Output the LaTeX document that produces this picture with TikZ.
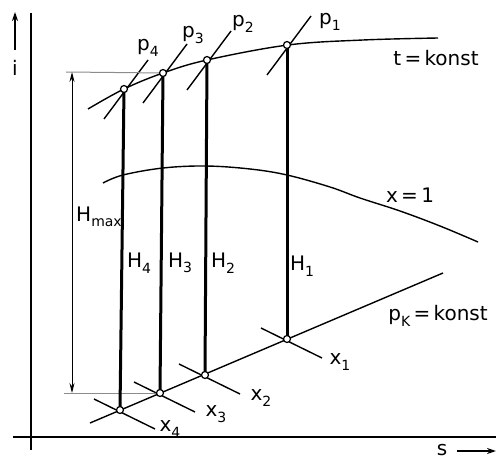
\documentclass[tikz,border=0pt]{standalone}
\usepackage{fontspec}
\setmainfont{DejaVu Sans}
\usetikzlibrary{arrows.meta,calc}
\newcommand\ssub[1]{\raisebox{-0.5ex}{\fontsize{14}{14}\selectfont #1}}
\tikzset{
  lbl/.style={font=\fontsize{20}{24}\selectfont, inner sep=0pt},
  curve/.style={line width=1.4pt},
  tick/.style={line width=1.4pt},
  hline/.style={line width=3pt},
  axis/.style={line width=1.8pt},
  pt/.style={circle, draw, fill=white, line width=1.2pt, inner sep=0pt, minimum size=7pt},
  guide/.style={line width=1pt, black!45},
  dim/.style={line width=1pt}
}
\begin{document}
\begin{tikzpicture}[x=1pt,y=-1pt]
\useasboundingbox (0,0) rectangle (496,460);
% state points
\coordinate (P1) at (287,45);
\coordinate (P2) at (207,60);
\coordinate (P3) at (163,73);
\coordinate (P4) at (124,89);
\coordinate (X1) at (287,339);
\coordinate (X2) at (205,375);
\coordinate (X3) at (160,393);
\coordinate (X4) at (120,410);
% axes
\coordinate (Atop) at (31,13);
\coordinate (Abot) at (31,450);
\coordinate (Aleft) at (13,437);
\coordinate (Aright) at (496,437);
\draw[axis] (Atop) -- (Abot);
\draw[axis] (Aleft) -- (Aright);
\coordinate (Ia) at (15,50);
\coordinate (Ib) at (15,12);
\draw[line width=1.8pt, -{Stealth[length=9pt,width=6pt]}] (Ia) -- (Ib);
\node[lbl] (ilab) at (15,68) {i};
\coordinate (Sa) at (457,451);
\coordinate (Sb) at (496,451);
\draw[line width=1.6pt, -{Stealth[length=9pt,width=6pt]}] (Sa) -- (Sb);
\node[lbl] (slab) at (442,450) {s};
% t = konst
\draw[curve] plot[smooth, tension=0.6] coordinates {(88,109) (124,89) (163,73) (207,60) (288,45) (363,40) (438,38)};
% x = 1
\draw[curve] plot[smooth, tension=0.6] coordinates {(103,183) (123,175) (163,168) (206,166) (250,169) (287,175) (330,187) (360,198) (400,211) (440,226) (478,242)};
% p_K = konst
\coordinate (Ka) at (90,423);
\coordinate (Kb) at (443,273);
\draw[curve] (Ka) -- (Kb);
% isobar ticks at P
\foreach \p in {P1,P2,P3,P4}{
  \draw[tick] ($(\p)+(-20,30)$) -- ($(\p)+(24,-29)$);
}
% ticks at X
\foreach \p in {X1,X2,X3,X4}{
  \draw[tick] ($(\p)+(-26,-11)$) -- ($(\p)+(35,19)$);
}
% Hmax dimension
\coordinate (Ht) at (72,72);
\coordinate (Hb) at (72,393);
\coordinate (Gt) at (66,72);
\coordinate (Gb) at (64,393);
\draw[guide] (Gt) -- (P3);
\draw[guide] (Gb) -- (X3);
\draw[dim, {Stealth[length=10pt,width=5pt]}-{Stealth[length=10pt,width=5pt]}] (Ht) -- (Hb);
\node[lbl] (hmax) at (99,217) {H\ssub{max}};
% expansion lines
\draw[hline] (P1) -- (X1);
\draw[hline] (P2) -- (X2);
\draw[hline] (P3) -- (X3);
\draw[hline] (P4) -- (X4);
% points
\foreach \p in {P1,P2,P3,P4,X1,X2,X3,X4}{
  \node[pt] at (\p) {};
}
% labels
\node[lbl] (lp1) at (330,22) {p\ssub{1}};
\node[lbl] (lp2) at (243,24) {p\ssub{2}};
\node[lbl] (lp3) at (193,35) {p\ssub{3}};
\node[lbl] (lp4) at (148,48) {p\ssub{4}};
\node[lbl] (lt) at (436,58) {t\,=\,konst};
\node[lbl] (lx) at (410,195) {x\,=\,1};
\node[lbl] (lk) at (438,316) {p\ssub{K}\,=\,konst};
\node[lbl] (lx1) at (340,362) {x\ssub{1}};
\node[lbl] (lx2) at (261,398) {x\ssub{2}};
\node[lbl] (lx3) at (216,414) {x\ssub{3}};
\node[lbl] (lx4) at (170,429) {x\ssub{4}};
\node[lbl] (lh1) at (302,266) {H\ssub{1}};
\node[lbl] (lh2) at (223,263) {H\ssub{2}};
\node[lbl] (lh3) at (180,263) {H\ssub{3}};
\node[lbl] (lh4) at (139,263) {H\ssub{4}};
\end{tikzpicture}
\end{document}
